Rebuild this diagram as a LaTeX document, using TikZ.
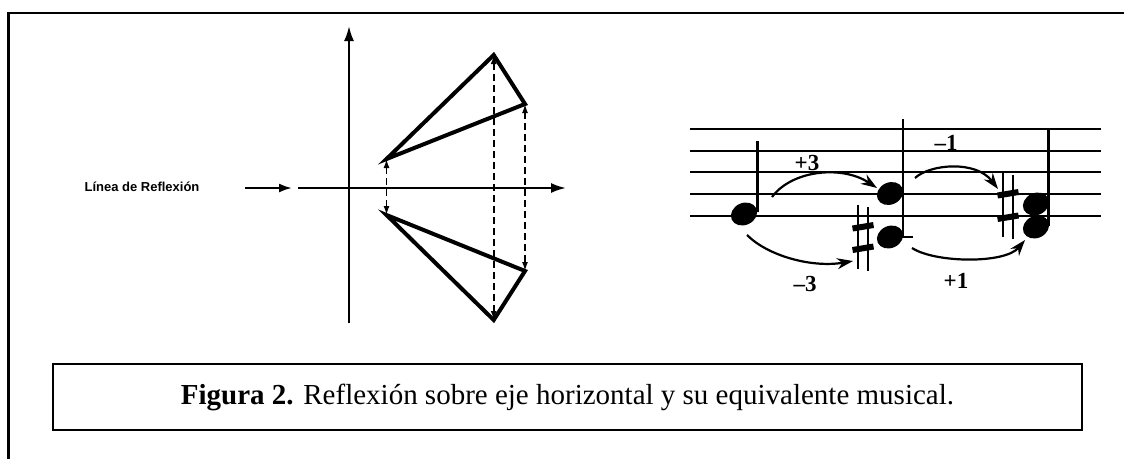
\documentclass[tikz,border=0pt]{standalone}
\usepackage{fontspec}
\setmainfont{Liberation Serif}
\newfontfamily\labelfont{Liberation Sans}
\usetikzlibrary{arrows.meta,shapes.geometric}
\begin{document}
\begin{tikzpicture}[x=1pt,y=-1pt,
  frameline/.style={line width=2.2pt},
  axis/.style={line width=2.2pt,-{Latex[length=15pt,width=10pt]}},
  tri/.style={line width=4pt,line join=miter},
  dashar/.style={line width=1.6pt,dash pattern=on 7pt off 4pt,{Latex[length=9pt,width=6pt]}-{Latex[length=9pt,width=6pt]}},
  staffline/.style={line width=2.2pt},
  stemline/.style={line width=2.2pt},
  notehead/.style={fill=black,ellipse,minimum width=27pt,minimum height=22pt,rotate=25,inner sep=0pt},
  curvar/.style={line width=2.2pt,-{Stealth[length=16pt,width=11pt]}},
  numlab/.style={font=\fontsize{23}{23}\selectfont\bfseries,inner sep=0pt},
  sharpv/.style={line width=2.6pt},
  sharph/.style={line width=6pt},
]
\useasboundingbox (0,0) rectangle (1124,459);

% outer frame (left and top only visible)
\coordinate (FBL) at (8.5,459);
\coordinate (FTL) at (8.5,13);
\coordinate (FTR) at (1124,13);
\draw[frameline] (FBL) -- (FTL) -- (FTR);

% ---------- reflection diagram ----------
\coordinate (VB) at (349,323);
\coordinate (VT) at (349,26);
\coordinate (HL) at (298,188);
\coordinate (HR) at (566,188);
\draw[axis] (VB) -- (VT);
\draw[axis] (HL) -- (HR);

\node[font=\labelfont\bfseries\fontsize{13}{13}\selectfont,inner sep=0pt] (lbl) at (142,187) {Línea de Reflexión};
\coordinate (SA) at (245,188);
\coordinate (SB) at (292,188);
\draw[axis,-{Latex[length=13pt,width=9pt]}] (SA) -- (SB);

\coordinate (A1) at (386.5,159);
\coordinate (B1) at (493.7,55);
\coordinate (C1) at (525,104);
\coordinate (A2) at (386.5,215);
\coordinate (B2) at (493.7,320);
\coordinate (C2) at (525,271);
\draw[tri] (A1) -- (B1) -- (C1) -- cycle;
\draw[tri] (A2) -- (B2) -- (C2) -- cycle;
\draw[dashar] (A1) -- (A2);
\draw[dashar] (B1) -- (B2);
\draw[dashar] (C1) -- (C2);

% ---------- musical staff ----------
\foreach \yy/\nm in {129/L1,151/L2,172/L3,194/L4,216/L5}{
  \coordinate (\nm a) at (690,\yy);
  \coordinate (\nm b) at (1101,\yy);
  \draw[staffline] (\nm a) -- (\nm b);
}

% ledger line for lower note 2
\coordinate (LGa) at (898,237);
\coordinate (LGb) at (913,237);
\draw[stemline] (LGa) -- (LGb);

% notes
\node[notehead] (n1) at (744,214) {};
\node[notehead] (n2u) at (890,193.5) {};
\node[notehead] (n2l) at (890,237) {};
\node[notehead] (n3u) at (1036,204) {};
\node[notehead] (n3l) at (1036,227) {};

% stems
\coordinate (s1t) at (757.5,141);
\coordinate (s1b) at (757.5,212);
\draw[stemline] (s1b) -- (s1t);
\coordinate (s2t) at (903,119);
\coordinate (s2b) at (903,237);
\draw[stemline] (s2b) -- (s2t);
\coordinate (s3t) at (1048.5,129);
\coordinate (s3b) at (1048.5,226);
\draw[stemline] (s3b) -- (s3t);

% sharps
\begin{scope}[shift={(863,237.5)}]
  \draw[sharpv] (-5,-33) -- (-5,31);
  \draw[sharpv] (5,-31) -- (5,33);
  \draw[sharph] (-10.5,-9) -- (10.5,-12.5);
  \draw[sharph] (-10.5,12.5) -- (10.5,9);
\end{scope}
\begin{scope}[shift={(1008,205.5)}]
  \draw[sharpv] (-5,-33) -- (-5,31);
  \draw[sharpv] (5,-31) -- (5,33);
  \draw[sharph] (-10.5,-10) -- (10.5,-13.5);
  \draw[sharph] (-10.5,13.5) -- (10.5,10);
\end{scope}

% interval arrows
\coordinate (p3a) at (772,197);
\coordinate (p3b) at (877,188);
\draw[curvar] (p3a) .. controls (792,170) and (842,165) .. (p3b);
\coordinate (m3a) at (747,235);
\coordinate (m3b) at (853,261);
\draw[curvar] (m3a) .. controls (768,256) and (812,268) .. (m3b);
\coordinate (m1a) at (915,178);
\coordinate (m1b) at (998,189);
\draw[curvar] (m1a) .. controls (930,164) and (976,160) .. (m1b);
\coordinate (p1a) at (912,248);
\coordinate (p1b) at (1025,240);
\draw[curvar] (p1a) .. controls (935,263) and (1005,264) .. (p1b);

\node[numlab] (lp3) at (807,163) {+3};
\node[numlab] (lm3) at (805,284) {–3};
\node[numlab] (lm1) at (946,143) {–1};
\node[numlab] (lp1) at (956,281) {+1};

% ---------- caption ----------
\node[draw,line width=2.2pt,minimum width=1029pt,minimum height=66pt,inner sep=0pt] (cap) at (567.5,397)
  {\fontsize{29}{29}\selectfont\textbf{Figura 2.} Reflexión sobre eje horizontal y su equivalente musical.};
\end{tikzpicture}
\end{document}
